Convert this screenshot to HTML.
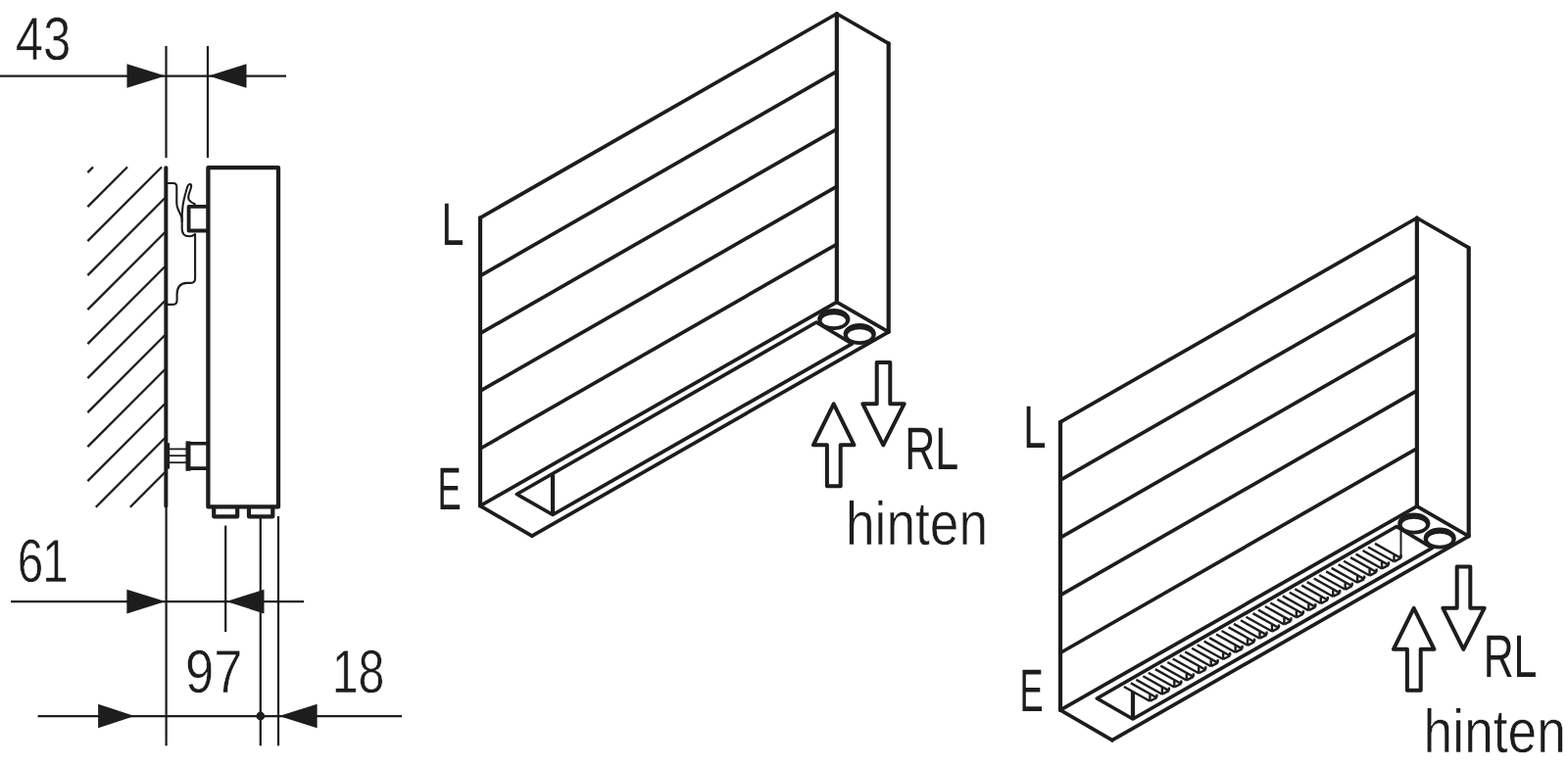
<!DOCTYPE html>
<html lang="de">
<head>
<meta charset="utf-8">
<title>Ma&szlig;zeichnung Heizk&ouml;rper</title>
<style>
html,body{margin:0;padding:0;background:#fff;}
body{width:1600px;height:783px;overflow:hidden;}
svg{display:block;}
svg{filter:grayscale(1);}
svg text{text-rendering:geometricPrecision;font-family:"Liberation Sans",sans-serif;fill:#1d1d1b;}
</style>
</head>
<body>
<svg role="img" aria-label="Ma&szlig;zeichnung" width="1600" height="783" viewBox="0 0 1600 783" stroke="#1d1d1b" fill="none">
<rect x="0" y="0" width="1600" height="783" fill="#fff" stroke="none"/>
<g id="section">
<line x1="0.00" y1="77.50" x2="292.00" y2="77.50" stroke-width="2.25" stroke-linecap="butt" />
<path d="M129.50,65.30 L168.80,77.50 L129.50,89.70 Z" fill="#1d1d1b" stroke="none" stroke-linejoin="miter" />
<path d="M251.50,65.30 L212.80,77.50 L251.50,89.70 Z" fill="#1d1d1b" stroke="none" stroke-linejoin="miter" />
<line x1="169.50" y1="47.00" x2="169.50" y2="161.00" stroke-width="2.25" stroke-linecap="butt" />
<line x1="212.00" y1="47.00" x2="212.00" y2="161.00" stroke-width="2.25" stroke-linecap="butt" />
<line x1="89.40" y1="176.10" x2="95.00" y2="170.50" stroke-width="2.3" stroke-linecap="butt" />
<line x1="89.40" y1="211.10" x2="130.00" y2="170.50" stroke-width="2.3" stroke-linecap="butt" />
<line x1="89.40" y1="246.10" x2="165.00" y2="170.50" stroke-width="2.3" stroke-linecap="butt" />
<line x1="89.40" y1="281.10" x2="168.20" y2="202.30" stroke-width="2.3" stroke-linecap="butt" />
<line x1="89.40" y1="316.10" x2="168.20" y2="237.30" stroke-width="2.3" stroke-linecap="butt" />
<line x1="89.40" y1="351.10" x2="168.20" y2="272.30" stroke-width="2.3" stroke-linecap="butt" />
<line x1="89.40" y1="386.10" x2="168.20" y2="307.30" stroke-width="2.3" stroke-linecap="butt" />
<line x1="89.40" y1="421.10" x2="168.20" y2="342.30" stroke-width="2.3" stroke-linecap="butt" />
<line x1="89.40" y1="456.10" x2="168.20" y2="377.30" stroke-width="2.3" stroke-linecap="butt" />
<line x1="89.40" y1="491.10" x2="168.20" y2="412.30" stroke-width="2.3" stroke-linecap="butt" />
<line x1="97.80" y1="517.70" x2="168.20" y2="447.30" stroke-width="2.3" stroke-linecap="butt" />
<line x1="132.80" y1="517.70" x2="168.20" y2="482.30" stroke-width="2.3" stroke-linecap="butt" />
<line x1="169.35" y1="171.20" x2="169.35" y2="516.60" stroke-width="4.0" stroke-linecap="round" />
<line x1="169.60" y1="517.00" x2="169.60" y2="761.30" stroke-width="2.25" stroke-linecap="butt" />
<path d="M212.4,517.4 V171.2 H284 V517.4 Z" fill="none" stroke-width="4.3" stroke-linejoin="round"/>
<path d="M218.2,517.4 V527.3 H242.2 V517.4" fill="none" stroke-width="4.2" stroke-linejoin="round"/>
<path d="M254,517.4 V527.3 H278.3 V517.4" fill="none" stroke-width="4.2" stroke-linejoin="round"/>
<path d="M212.8,210.9 H192.6 V235.5 H212.8" fill="none" stroke-width="3.8" stroke-linejoin="round"/>
<path d="M170.5,187 H176.8 Q180.3,187 180.3,190.8 V207.5 Q180.3,211 182,214.2 L185.0,220.8 Q185.7,222.5 185.7,225 V233.5 Q185.7,241.3 193,241.3 Q196.5,241.3 199.1,239 V284.5 Q199.1,288.9 194.5,288.9 H190.5 Q180.6,289.5 180.6,300.6 V306.5 Q180.6,310.9 176.5,310.9 H170.5" fill="none" stroke-width="2.1" stroke-linecap="round" stroke-linejoin="round"/>
<path d="M185.7,226 Q185.6,217 186.6,209.5 Q187.6,203 189.4,197 Q190.6,192.5 191.5,190 Q192.6,187.6 194,188 Q195.6,188.6 195,191.2 Q193.6,195.5 192.8,198 Q191.6,202 192.8,204 Q194.5,206.6 198.8,208.3" fill="none" stroke-width="2.1" stroke-linecap="round" stroke-linejoin="round"/>
<path d="M212.8,452.7 H192.2 V478.1 H212.8" fill="none" stroke-width="3.6" stroke-linejoin="round"/>
<line x1="192.00" y1="450.40" x2="192.00" y2="480.80" stroke-width="5" stroke-linecap="butt" />
<line x1="170.60" y1="452.20" x2="170.60" y2="478.60" stroke-width="5" stroke-linecap="butt" />
<line x1="172.00" y1="458.40" x2="190.50" y2="458.40" stroke-width="1.8" stroke-linecap="butt" />
<line x1="172.00" y1="465.20" x2="190.50" y2="465.20" stroke-width="1.8" stroke-linecap="butt" />
<line x1="172.00" y1="472.20" x2="190.50" y2="472.20" stroke-width="1.8" stroke-linecap="butt" />
<line x1="230.20" y1="536.60" x2="230.20" y2="645.00" stroke-width="2.25" stroke-linecap="butt" />
<line x1="265.80" y1="529.00" x2="265.80" y2="761.30" stroke-width="2.25" stroke-linecap="butt" />
<line x1="284.00" y1="527.00" x2="284.00" y2="761.30" stroke-width="2.25" stroke-linecap="butt" />
<line x1="11.00" y1="614.10" x2="310.00" y2="614.10" stroke-width="2.25" stroke-linecap="butt" />
<path d="M129.40,601.80 L168.80,614.10 L129.40,626.40 Z" fill="#1d1d1b" stroke="none" stroke-linejoin="miter" />
<path d="M269.50,601.80 L231.00,614.10 L269.50,626.40 Z" fill="#1d1d1b" stroke="none" stroke-linejoin="miter" />
<line x1="38.60" y1="731.00" x2="410.00" y2="731.00" stroke-width="2.25" stroke-linecap="butt" />
<path d="M100.10,718.80 L137.40,731.00 L100.10,743.20 Z" fill="#1d1d1b" stroke="none" stroke-linejoin="miter" />
<path d="M323.60,718.80 L284.80,731.00 L323.60,743.20 Z" fill="#1d1d1b" stroke="none" stroke-linejoin="miter" />
<circle cx="265.8" cy="731" r="4.4" fill="#1d1d1b" stroke="none"/>
<text transform="translate(15.76,61.30) scale(0.8176,1)" font-size="62.37" stroke="#fff" stroke-width="0.6" stroke-linejoin="miter">43</text>
<text transform="translate(17.86,594.00) scale(0.7650,1)" font-size="62.37" letter-spacing="-1.37" stroke="#fff" stroke-width="0.6" stroke-linejoin="miter">61</text>
<text transform="translate(189.00,707.40) scale(0.8422,1)" font-size="62.37" stroke="#fff" stroke-width="0.6" stroke-linejoin="miter">97</text>
<text transform="translate(338.75,707.40) scale(0.7732,1)" font-size="62.37" stroke="#fff" stroke-width="0.6" stroke-linejoin="miter">18</text>
</g>
<g id="iso1">
<line x1="490.00" y1="222.30" x2="490.00" y2="516.40" stroke-width="4.2" stroke-linecap="round" />
<line x1="853.85" y1="14.00" x2="853.85" y2="308.40" stroke-width="4.2" stroke-linecap="round" />
<line x1="906.70" y1="44.30" x2="906.70" y2="338.80" stroke-width="4.2" stroke-linecap="round" />
<line x1="490.00" y1="222.30" x2="853.85" y2="14.00" stroke-width="3.7" stroke-linecap="round" />
<line x1="853.85" y1="14.00" x2="906.70" y2="44.30" stroke-width="3.7" stroke-linecap="round" />
<line x1="906.70" y1="338.80" x2="542.90" y2="547.20" stroke-width="3.7" stroke-linecap="round" />
<line x1="542.90" y1="547.20" x2="490.00" y2="516.40" stroke-width="3.7" stroke-linecap="round" />
<line x1="490.00" y1="516.40" x2="853.85" y2="308.40" stroke-width="3.7" stroke-linecap="round" />
<line x1="853.85" y1="308.40" x2="906.70" y2="338.80" stroke-width="3.7" stroke-linecap="round" />
<line x1="490.00" y1="281.60" x2="853.85" y2="72.80" stroke-width="3.7" stroke-linecap="butt" />
<line x1="490.00" y1="340.40" x2="853.85" y2="131.80" stroke-width="3.7" stroke-linecap="butt" />
<line x1="490.00" y1="399.20" x2="853.85" y2="190.40" stroke-width="3.7" stroke-linecap="butt" />
<line x1="490.00" y1="458.00" x2="853.85" y2="249.30" stroke-width="3.7" stroke-linecap="butt" />
<path d="M564.0,525.5 L527.4,504.5 L833.0,329.0 L869.5,350.8 Z" fill="none" stroke-width="3.7" stroke-linejoin="round"/>
<line x1="564.00" y1="484.40" x2="564.00" y2="525.50" stroke-width="4.2" stroke-linecap="butt" />
<ellipse cx="850.8" cy="326.0" rx="16.6" ry="10.9" fill="#1d1d1b" stroke="none"/>
<ellipse cx="850.8" cy="327.3" rx="12.1" ry="6.0" fill="#fff" stroke="none"/>
<ellipse cx="877.2" cy="341.0" rx="16.6" ry="10.9" fill="#1d1d1b" stroke="none"/>
<ellipse cx="877.2" cy="342.3" rx="12.1" ry="6.0" fill="#fff" stroke="none"/>
<path d="M894.7,370.1 H908.3 V412.2 H922.7 L901.3,454.3 L880.3,412.2 H894.7 Z" fill="none" stroke-width="4.0" stroke-linejoin="round"/>
<path d="M850.7,412.4 L871.5,454.3 H857.7 V496.3 H843.9 V454.3 H829.9 Z" fill="none" stroke-width="4.0" stroke-linejoin="round"/>
<text transform="translate(450.47,250.30) scale(0.6689,1)" font-size="61.50" stroke="none">L</text>
<text transform="translate(446.59,519.60) scale(0.5872,1)" font-size="61.50" stroke="none">E</text>
<text transform="translate(923.32,478.80) scale(0.6989,1)" font-size="61.50" stroke="none">RL</text>
<text transform="translate(862.92,555.60) scale(0.8549,1)" font-size="62.37" stroke="#fff" stroke-width="0.6" stroke-linejoin="miter">hinten</text>
</g>
<g id="iso2" transform="translate(592,208.5)">
<line x1="490.00" y1="222.30" x2="490.00" y2="516.40" stroke-width="4.2" stroke-linecap="round" />
<line x1="853.85" y1="14.00" x2="853.85" y2="308.40" stroke-width="4.2" stroke-linecap="round" />
<line x1="906.70" y1="44.30" x2="906.70" y2="338.80" stroke-width="4.2" stroke-linecap="round" />
<line x1="490.00" y1="222.30" x2="853.85" y2="14.00" stroke-width="3.7" stroke-linecap="round" />
<line x1="853.85" y1="14.00" x2="906.70" y2="44.30" stroke-width="3.7" stroke-linecap="round" />
<line x1="906.70" y1="338.80" x2="542.90" y2="547.20" stroke-width="3.7" stroke-linecap="round" />
<line x1="542.90" y1="547.20" x2="490.00" y2="516.40" stroke-width="3.7" stroke-linecap="round" />
<line x1="490.00" y1="516.40" x2="853.85" y2="308.40" stroke-width="3.7" stroke-linecap="round" />
<line x1="853.85" y1="308.40" x2="906.70" y2="338.80" stroke-width="3.7" stroke-linecap="round" />
<line x1="490.00" y1="281.60" x2="853.85" y2="72.80" stroke-width="3.7" stroke-linecap="butt" />
<line x1="490.00" y1="340.40" x2="853.85" y2="131.80" stroke-width="3.7" stroke-linecap="butt" />
<line x1="490.00" y1="399.20" x2="853.85" y2="190.40" stroke-width="3.7" stroke-linecap="butt" />
<line x1="490.00" y1="458.00" x2="853.85" y2="249.30" stroke-width="3.7" stroke-linecap="butt" />
<line x1="554.90" y1="492.50" x2="581.40" y2="507.30" stroke-width="2.4" stroke-linecap="butt" />
<line x1="561.90" y1="488.90" x2="588.40" y2="503.70" stroke-width="2.4" stroke-linecap="butt" />
<line x1="581.40" y1="507.30" x2="581.40" y2="500.60" stroke-width="2.4" stroke-linecap="butt" />
<line x1="581.40" y1="507.30" x2="588.40" y2="503.70" stroke-width="2.4" stroke-linecap="butt" />
<line x1="588.40" y1="503.70" x2="588.40" y2="500.20" stroke-width="2.4" stroke-linecap="butt" />
<line x1="567.36" y1="485.38" x2="593.86" y2="500.18" stroke-width="2.4" stroke-linecap="butt" />
<line x1="574.36" y1="481.78" x2="600.86" y2="496.58" stroke-width="2.4" stroke-linecap="butt" />
<line x1="593.86" y1="500.18" x2="593.86" y2="493.48" stroke-width="2.4" stroke-linecap="butt" />
<line x1="593.86" y1="500.18" x2="600.86" y2="496.58" stroke-width="2.4" stroke-linecap="butt" />
<line x1="600.86" y1="496.58" x2="600.86" y2="493.08" stroke-width="2.4" stroke-linecap="butt" />
<line x1="579.81" y1="478.25" x2="606.31" y2="493.05" stroke-width="2.4" stroke-linecap="butt" />
<line x1="586.81" y1="474.65" x2="613.31" y2="489.45" stroke-width="2.4" stroke-linecap="butt" />
<line x1="606.31" y1="493.05" x2="606.31" y2="486.35" stroke-width="2.4" stroke-linecap="butt" />
<line x1="606.31" y1="493.05" x2="613.31" y2="489.45" stroke-width="2.4" stroke-linecap="butt" />
<line x1="613.31" y1="489.45" x2="613.31" y2="485.95" stroke-width="2.4" stroke-linecap="butt" />
<line x1="592.27" y1="471.13" x2="618.77" y2="485.93" stroke-width="2.4" stroke-linecap="butt" />
<line x1="599.27" y1="467.53" x2="625.77" y2="482.33" stroke-width="2.4" stroke-linecap="butt" />
<line x1="618.77" y1="485.93" x2="618.77" y2="479.23" stroke-width="2.4" stroke-linecap="butt" />
<line x1="618.77" y1="485.93" x2="625.77" y2="482.33" stroke-width="2.4" stroke-linecap="butt" />
<line x1="625.77" y1="482.33" x2="625.77" y2="478.83" stroke-width="2.4" stroke-linecap="butt" />
<line x1="604.72" y1="464.00" x2="631.22" y2="478.80" stroke-width="2.4" stroke-linecap="butt" />
<line x1="611.72" y1="460.40" x2="638.22" y2="475.20" stroke-width="2.4" stroke-linecap="butt" />
<line x1="631.22" y1="478.80" x2="631.22" y2="472.10" stroke-width="2.4" stroke-linecap="butt" />
<line x1="631.22" y1="478.80" x2="638.22" y2="475.20" stroke-width="2.4" stroke-linecap="butt" />
<line x1="638.22" y1="475.20" x2="638.22" y2="471.70" stroke-width="2.4" stroke-linecap="butt" />
<line x1="617.18" y1="456.88" x2="643.68" y2="471.68" stroke-width="2.4" stroke-linecap="butt" />
<line x1="624.18" y1="453.28" x2="650.68" y2="468.08" stroke-width="2.4" stroke-linecap="butt" />
<line x1="643.68" y1="471.68" x2="643.68" y2="464.98" stroke-width="2.4" stroke-linecap="butt" />
<line x1="643.68" y1="471.68" x2="650.68" y2="468.08" stroke-width="2.4" stroke-linecap="butt" />
<line x1="650.68" y1="468.08" x2="650.68" y2="464.58" stroke-width="2.4" stroke-linecap="butt" />
<line x1="629.63" y1="449.75" x2="656.13" y2="464.55" stroke-width="2.4" stroke-linecap="butt" />
<line x1="636.63" y1="446.15" x2="663.13" y2="460.95" stroke-width="2.4" stroke-linecap="butt" />
<line x1="656.13" y1="464.55" x2="656.13" y2="457.85" stroke-width="2.4" stroke-linecap="butt" />
<line x1="656.13" y1="464.55" x2="663.13" y2="460.95" stroke-width="2.4" stroke-linecap="butt" />
<line x1="663.13" y1="460.95" x2="663.13" y2="457.45" stroke-width="2.4" stroke-linecap="butt" />
<line x1="642.09" y1="442.63" x2="668.59" y2="457.43" stroke-width="2.4" stroke-linecap="butt" />
<line x1="649.09" y1="439.03" x2="675.59" y2="453.83" stroke-width="2.4" stroke-linecap="butt" />
<line x1="668.59" y1="457.43" x2="668.59" y2="450.73" stroke-width="2.4" stroke-linecap="butt" />
<line x1="668.59" y1="457.43" x2="675.59" y2="453.83" stroke-width="2.4" stroke-linecap="butt" />
<line x1="675.59" y1="453.83" x2="675.59" y2="450.33" stroke-width="2.4" stroke-linecap="butt" />
<line x1="654.54" y1="435.51" x2="681.04" y2="450.31" stroke-width="2.4" stroke-linecap="butt" />
<line x1="661.54" y1="431.91" x2="688.04" y2="446.71" stroke-width="2.4" stroke-linecap="butt" />
<line x1="681.04" y1="450.31" x2="681.04" y2="443.61" stroke-width="2.4" stroke-linecap="butt" />
<line x1="681.04" y1="450.31" x2="688.04" y2="446.71" stroke-width="2.4" stroke-linecap="butt" />
<line x1="688.04" y1="446.71" x2="688.04" y2="443.21" stroke-width="2.4" stroke-linecap="butt" />
<line x1="667.00" y1="428.38" x2="693.50" y2="443.18" stroke-width="2.4" stroke-linecap="butt" />
<line x1="674.00" y1="424.78" x2="700.50" y2="439.58" stroke-width="2.4" stroke-linecap="butt" />
<line x1="693.50" y1="443.18" x2="693.50" y2="436.48" stroke-width="2.4" stroke-linecap="butt" />
<line x1="693.50" y1="443.18" x2="700.50" y2="439.58" stroke-width="2.4" stroke-linecap="butt" />
<line x1="700.50" y1="439.58" x2="700.50" y2="436.08" stroke-width="2.4" stroke-linecap="butt" />
<line x1="679.45" y1="421.26" x2="705.95" y2="436.06" stroke-width="2.4" stroke-linecap="butt" />
<line x1="686.45" y1="417.66" x2="712.95" y2="432.46" stroke-width="2.4" stroke-linecap="butt" />
<line x1="705.95" y1="436.06" x2="705.95" y2="429.36" stroke-width="2.4" stroke-linecap="butt" />
<line x1="705.95" y1="436.06" x2="712.95" y2="432.46" stroke-width="2.4" stroke-linecap="butt" />
<line x1="712.95" y1="432.46" x2="712.95" y2="428.96" stroke-width="2.4" stroke-linecap="butt" />
<line x1="691.91" y1="414.13" x2="718.41" y2="428.93" stroke-width="2.4" stroke-linecap="butt" />
<line x1="698.91" y1="410.53" x2="725.41" y2="425.33" stroke-width="2.4" stroke-linecap="butt" />
<line x1="718.41" y1="428.93" x2="718.41" y2="422.23" stroke-width="2.4" stroke-linecap="butt" />
<line x1="718.41" y1="428.93" x2="725.41" y2="425.33" stroke-width="2.4" stroke-linecap="butt" />
<line x1="725.41" y1="425.33" x2="725.41" y2="421.83" stroke-width="2.4" stroke-linecap="butt" />
<line x1="704.36" y1="407.01" x2="730.86" y2="421.81" stroke-width="2.4" stroke-linecap="butt" />
<line x1="711.36" y1="403.41" x2="737.86" y2="418.21" stroke-width="2.4" stroke-linecap="butt" />
<line x1="730.86" y1="421.81" x2="730.86" y2="415.11" stroke-width="2.4" stroke-linecap="butt" />
<line x1="730.86" y1="421.81" x2="737.86" y2="418.21" stroke-width="2.4" stroke-linecap="butt" />
<line x1="737.86" y1="418.21" x2="737.86" y2="414.71" stroke-width="2.4" stroke-linecap="butt" />
<line x1="716.82" y1="399.88" x2="743.32" y2="414.68" stroke-width="2.4" stroke-linecap="butt" />
<line x1="723.82" y1="396.28" x2="750.32" y2="411.08" stroke-width="2.4" stroke-linecap="butt" />
<line x1="743.32" y1="414.68" x2="743.32" y2="407.98" stroke-width="2.4" stroke-linecap="butt" />
<line x1="743.32" y1="414.68" x2="750.32" y2="411.08" stroke-width="2.4" stroke-linecap="butt" />
<line x1="750.32" y1="411.08" x2="750.32" y2="407.58" stroke-width="2.4" stroke-linecap="butt" />
<line x1="729.27" y1="392.76" x2="755.77" y2="407.56" stroke-width="2.4" stroke-linecap="butt" />
<line x1="736.27" y1="389.16" x2="762.77" y2="403.96" stroke-width="2.4" stroke-linecap="butt" />
<line x1="755.77" y1="407.56" x2="755.77" y2="400.86" stroke-width="2.4" stroke-linecap="butt" />
<line x1="755.77" y1="407.56" x2="762.77" y2="403.96" stroke-width="2.4" stroke-linecap="butt" />
<line x1="762.77" y1="403.96" x2="762.77" y2="400.46" stroke-width="2.4" stroke-linecap="butt" />
<line x1="741.73" y1="385.64" x2="768.23" y2="400.44" stroke-width="2.4" stroke-linecap="butt" />
<line x1="748.73" y1="382.04" x2="775.23" y2="396.84" stroke-width="2.4" stroke-linecap="butt" />
<line x1="768.23" y1="400.44" x2="768.23" y2="393.74" stroke-width="2.4" stroke-linecap="butt" />
<line x1="768.23" y1="400.44" x2="775.23" y2="396.84" stroke-width="2.4" stroke-linecap="butt" />
<line x1="775.23" y1="396.84" x2="775.23" y2="393.34" stroke-width="2.4" stroke-linecap="butt" />
<line x1="754.18" y1="378.51" x2="780.68" y2="393.31" stroke-width="2.4" stroke-linecap="butt" />
<line x1="761.18" y1="374.91" x2="787.68" y2="389.71" stroke-width="2.4" stroke-linecap="butt" />
<line x1="780.68" y1="393.31" x2="780.68" y2="386.61" stroke-width="2.4" stroke-linecap="butt" />
<line x1="780.68" y1="393.31" x2="787.68" y2="389.71" stroke-width="2.4" stroke-linecap="butt" />
<line x1="787.68" y1="389.71" x2="787.68" y2="386.21" stroke-width="2.4" stroke-linecap="butt" />
<line x1="766.64" y1="371.39" x2="793.14" y2="386.19" stroke-width="2.4" stroke-linecap="butt" />
<line x1="773.64" y1="367.79" x2="800.14" y2="382.59" stroke-width="2.4" stroke-linecap="butt" />
<line x1="793.14" y1="386.19" x2="793.14" y2="379.49" stroke-width="2.4" stroke-linecap="butt" />
<line x1="793.14" y1="386.19" x2="800.14" y2="382.59" stroke-width="2.4" stroke-linecap="butt" />
<line x1="800.14" y1="382.59" x2="800.14" y2="379.09" stroke-width="2.4" stroke-linecap="butt" />
<line x1="779.09" y1="364.26" x2="805.59" y2="379.06" stroke-width="2.4" stroke-linecap="butt" />
<line x1="786.09" y1="360.66" x2="812.59" y2="375.46" stroke-width="2.4" stroke-linecap="butt" />
<line x1="805.59" y1="379.06" x2="805.59" y2="372.36" stroke-width="2.4" stroke-linecap="butt" />
<line x1="805.59" y1="379.06" x2="812.59" y2="375.46" stroke-width="2.4" stroke-linecap="butt" />
<line x1="812.59" y1="375.46" x2="812.59" y2="371.96" stroke-width="2.4" stroke-linecap="butt" />
<line x1="791.55" y1="357.14" x2="818.05" y2="371.94" stroke-width="2.4" stroke-linecap="butt" />
<line x1="798.55" y1="353.54" x2="825.05" y2="368.34" stroke-width="2.4" stroke-linecap="butt" />
<line x1="818.05" y1="371.94" x2="818.05" y2="365.24" stroke-width="2.4" stroke-linecap="butt" />
<line x1="818.05" y1="371.94" x2="825.05" y2="368.34" stroke-width="2.4" stroke-linecap="butt" />
<line x1="825.05" y1="368.34" x2="825.05" y2="364.84" stroke-width="2.4" stroke-linecap="butt" />
<line x1="804.00" y1="350.01" x2="830.50" y2="364.81" stroke-width="2.4" stroke-linecap="butt" />
<line x1="811.00" y1="346.41" x2="837.50" y2="361.21" stroke-width="2.4" stroke-linecap="butt" />
<line x1="830.50" y1="364.81" x2="830.50" y2="358.11" stroke-width="2.4" stroke-linecap="butt" />
<line x1="830.50" y1="364.81" x2="837.50" y2="361.21" stroke-width="2.4" stroke-linecap="butt" />
<line x1="837.50" y1="361.21" x2="837.50" y2="357.71" stroke-width="2.4" stroke-linecap="butt" />
<line x1="837.50" y1="361.21" x2="837.50" y2="333.21" stroke-width="2.0" stroke-linecap="butt" />
<path d="M564.0,525.5 L527.4,504.5 L833.0,329.0 L869.5,350.8 Z" fill="none" stroke-width="3.7" stroke-linejoin="round"/>
<line x1="564.00" y1="525.50" x2="564.00" y2="497.50" stroke-width="4.2" stroke-linecap="butt" />
<ellipse cx="850.8" cy="326.0" rx="16.6" ry="10.9" fill="#1d1d1b" stroke="none"/>
<ellipse cx="850.8" cy="327.3" rx="12.1" ry="6.0" fill="#fff" stroke="none"/>
<ellipse cx="877.2" cy="341.0" rx="16.6" ry="10.9" fill="#1d1d1b" stroke="none"/>
<ellipse cx="877.2" cy="342.3" rx="12.1" ry="6.0" fill="#fff" stroke="none"/>
<path d="M894.7,370.1 H908.3 V412.2 H922.7 L901.3,454.3 L880.3,412.2 H894.7 Z" fill="none" stroke-width="4.0" stroke-linejoin="round"/>
<path d="M850.7,412.4 L871.5,454.3 H857.7 V496.3 H843.9 V454.3 H829.9 Z" fill="none" stroke-width="4.0" stroke-linejoin="round"/>
<text transform="translate(452.13,248.20) scale(0.6763,1)" font-size="61.50" stroke="none">L</text>
<text transform="translate(448.39,517.50) scale(0.5872,1)" font-size="61.50" stroke="none">E</text>
<text transform="translate(921.63,482.10) scale(0.6961,1)" font-size="61.50" stroke="none">RL</text>
<text transform="translate(860.61,559.00) scale(0.8555,1)" font-size="62.37" stroke="#fff" stroke-width="0.6" stroke-linejoin="miter">hinten</text>
</g>
</svg>
</body>
</html>
